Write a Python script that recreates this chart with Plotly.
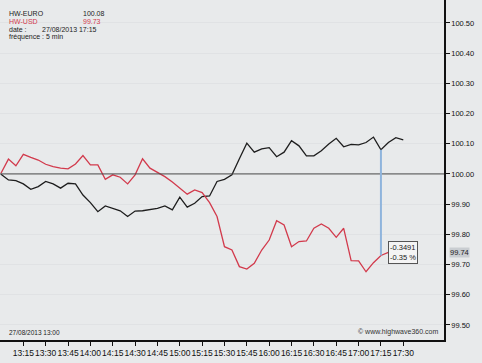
import pandas as pd
import plotly.graph_objects as go

# ---- data (5-minute bars, 27/08/2013 from 13:00) ----
times = pd.date_range("2013-08-27 13:00", periods=55, freq="5min")

hw_euro = [99.999, 99.980, 99.978, 99.967, 99.949, 99.958, 99.975, 99.967, 99.953, 99.969,
           99.967, 99.930, 99.905, 99.875, 99.894, 99.886, 99.878, 99.859, 99.877, 99.878,
           99.881, 99.886, 99.894, 99.881, 99.923, 99.890, 99.903, 99.925, 99.927, 99.975,
           99.982, 99.997, 100.050, 100.102, 100.072, 100.083, 100.087, 100.057, 100.072, 100.110,
           100.093, 100.060, 100.060, 100.077, 100.099, 100.118, 100.090, 100.098, 100.096, 100.104,
           100.122, 100.080, 100.104, 100.120, 100.113]

hw_usd = [100.002, 100.049, 100.027, 100.065, 100.055, 100.046, 100.032, 100.024, 100.019, 100.017,
          100.033, 100.061, 100.030, 100.030, 99.982, 99.997, 99.989, 99.967, 99.997, 100.050,
          100.019, 100.004, 99.991, 99.973, 99.953, 99.933, 99.947, 99.938, 99.905, 99.859,
          99.759, 99.748, 99.693, 99.685, 99.704, 99.748, 99.781, 99.845, 99.831, 99.759,
          99.776, 99.778, 99.820, 99.834, 99.820, 99.790, 99.820, 99.713, 99.712, 99.676,
          99.706, 99.730, 99.740]

y_ticks = [99.50, 99.60, 99.70, 99.80, 99.90, 100.00, 100.10, 100.20, 100.30, 100.40, 100.50]
x_ticks = pd.date_range("2013-08-27 13:15", "2013-08-27 17:30", freq="15min")
cursor_idx = 51  # 17:15

BG = "#e8eaeb"
RED = "#d23a4c"
FONT = "Liberation Sans, Arial, sans-serif"

fig = go.Figure()
fig.add_trace(go.Scatter(x=times, y=hw_euro, mode="lines",
                         line=dict(color="#1e1e1e", width=1.3), name="HW-EURO"))
fig.add_trace(go.Scatter(x=times[:len(hw_usd)], y=hw_usd, mode="lines",
                         line=dict(color=RED, width=1.3), name="HW-USD"))

# reference line at 100
fig.add_shape(type="line", xref="paper", x0=0, x1=1, yref="y", y0=100, y1=100,
              line=dict(color="#4a4a4a", width=1))
# cursor line
fig.add_shape(type="line", x0=times[cursor_idx], x1=times[cursor_idx],
              y0=hw_usd[cursor_idx], y1=hw_euro[cursor_idx],
              line=dict(color="#8fb4dc", width=2))

fig.add_annotation(x=times[len(hw_usd) - 1], y=hw_usd[-1], xanchor="left", yanchor="middle",
                   xshift=0, text="-0.3491<br>-0.35 %", showarrow=False,
                   font=dict(family=FONT, size=7.5, color="#222"), align="left",
                   bordercolor="#555", borderwidth=1, borderpad=1, bgcolor="#f4f4f4")
# highlighted last value on axis
fig.add_annotation(xref="paper", x=1, y=hw_usd[-1], xanchor="left", yanchor="middle",
                   xshift=5, text=f"{hw_usd[-1]:.2f}", showarrow=False,
                   font=dict(family=FONT, size=7.5, color="#222"), bgcolor="#c9cdd1", borderpad=0)

# header text
hdr = dict(xref="paper", yref="paper", showarrow=False, xanchor="left", yanchor="middle")
fsz = 7
fig.add_annotation(x=0.015, y=0.960, text="HW-EURO", font=dict(family=FONT, size=fsz, color="#222"), **hdr)
fig.add_annotation(x=0.182, y=0.960, text=f"{hw_euro[cursor_idx]:.2f}", font=dict(family=FONT, size=fsz, color="#222"), **hdr)
fig.add_annotation(x=0.015, y=0.937, text="HW-USD", font=dict(family=FONT, size=fsz, color=RED), **hdr)
fig.add_annotation(x=0.182, y=0.937, text=f"{hw_usd[cursor_idx]:.2f}", font=dict(family=FONT, size=fsz, color=RED), **hdr)
fig.add_annotation(x=0.015, y=0.914, text="date :", font=dict(family=FONT, size=fsz, color="#222"), **hdr)
fig.add_annotation(x=0.089, y=0.914, text="27/08/2013 17:15", font=dict(family=FONT, size=fsz, color="#222"), **hdr)
fig.add_annotation(x=0.015, y=0.891, text="fréquence : 5 min", font=dict(family=FONT, size=fsz, color="#222"), **hdr)
# footer text
fig.add_annotation(x=0.015, y=0.006, text="27/08/2013 13:00", font=dict(family=FONT, size=6.5, color="#222"),
                   xref="paper", yref="paper", showarrow=False, xanchor="left", yanchor="bottom")
fig.add_annotation(x=0.99, y=0.006, text="© www.highwave360.com", font=dict(family=FONT, size=7, color="#333"),
                   xref="paper", yref="paper", showarrow=False, xanchor="right", yanchor="bottom")

fig.update_layout(
    width=482, height=363,
    margin=dict(l=0, r=38, t=0, b=23),
    paper_bgcolor=BG, plot_bgcolor=BG,
    showlegend=False,
    xaxis=dict(range=["2013-08-27 12:59:20", "2013-08-27 17:57:20"],
               tickvals=list(x_ticks), ticktext=[t.strftime("%H:%M") for t in x_ticks],
               tickangle=0,
               ticks="outside", ticklen=4, tickcolor="#111", showgrid=False,
               showline=True, linecolor="#111", linewidth=1.5, zeroline=False,
               tickfont=dict(family=FONT, size=8.5, color="#111")),
    yaxis=dict(range=[99.450, 100.576], side="right", tickvals=y_ticks,
               ticktext=[f"{v:.2f}" for v in y_ticks],
               ticks="outside", ticklen=4, tickcolor="#111",
               showgrid=True, gridcolor="#e0e2e4", gridwidth=1,
               showline=True, linecolor="#111", linewidth=1.5, zeroline=False,
               tickfont=dict(family=FONT, size=7.5, color="#111")),
)

fig.write_html("out.html", config={"displayModeBar": False},
               post_script="document.body.style.margin='0';document.body.style.background='%s';" % BG)
